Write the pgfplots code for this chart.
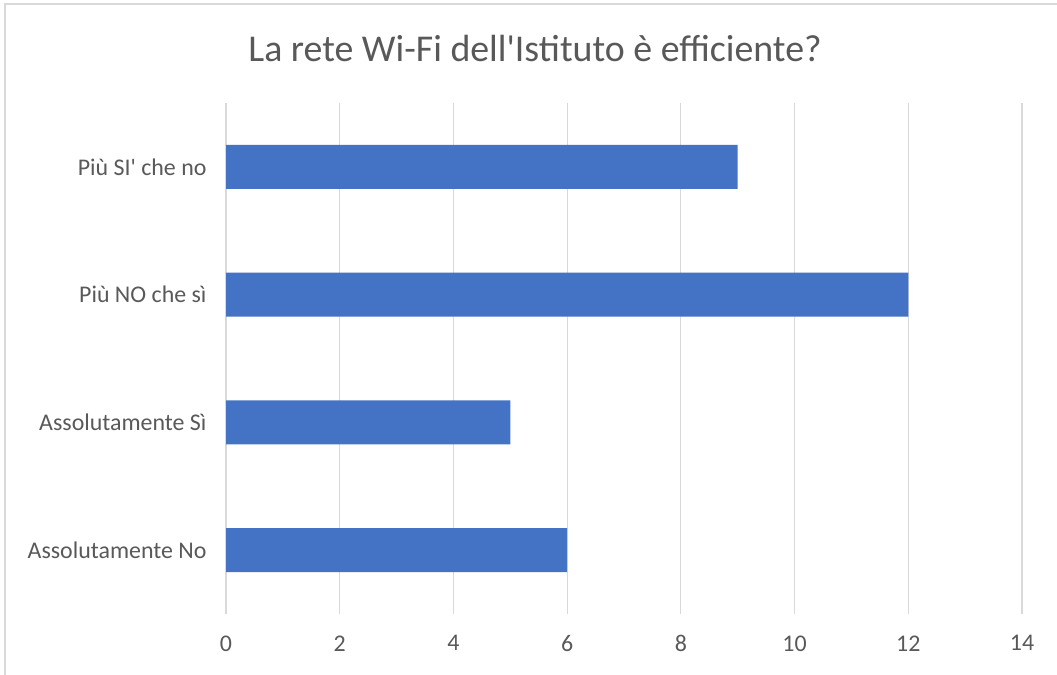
\documentclass[border=0pt]{standalone}
\usepackage{pgfplots}
\pgfplotsset{compat=1.18}
\usepackage{fontspec}
\setmainfont{Carlito}
\definecolor{barblue}{HTML}{4472C4}
\definecolor{txt}{HTML}{595959}
\definecolor{gridc}{HTML}{D9D9D9}
\begin{document}
\begin{tikzpicture}[x=1bp,y=1bp]
\useasboundingbox (0,0) rectangle (1057,-675);
\fill[white] (0,0) rectangle (1057,-675);
\draw[gridc, line width=1.5bp] (5,-675) -- (5,-4) -- (1057,-4);
\node[text=txt, font=\fontsize{38}{44}\selectfont, anchor=base] at (535,-62) {La rete Wi-Fi dell\textquotesingle Istituto è efficiente?};
\begin{axis}[
  at={(226bp,-614bp)}, anchor=south west,
  scale only axis, width=796bp, height=511bp,
  xmin=0, xmax=14, ymin=-0.5, ymax=3.5,
  xbar, bar width=44bp,
  axis line style={draw=none},
  major tick length=0pt,
  xmajorgrids, grid style={gridc, line width=1.2bp},
  xtick={0,2,...,14},
  ytick={0,1,2,3},
  yticklabels={Assolutamente No, Assolutamente Sì, Più NO che sì, Più SI\textquotesingle{} che no},
  tick label style={font=\fontsize{24}{28}\selectfont, text=txt},
  /pgf/number format/assume math mode=true,
  xticklabel style={yshift=-18bp},
  yticklabel style={xshift=-16bp},
]
\addplot[fill=barblue, draw=none] coordinates {(6,0) (5,1) (12,2) (9,3)};
\end{axis}
\end{tikzpicture}
\end{document}
